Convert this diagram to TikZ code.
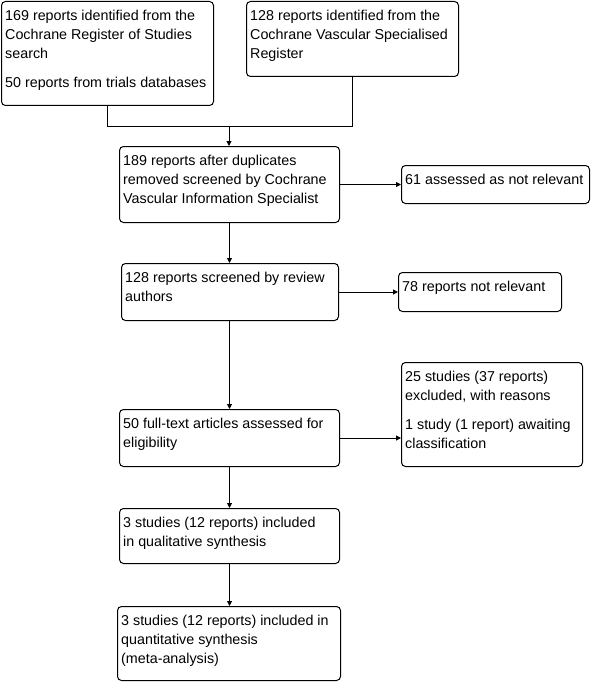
\documentclass[tikz,border=0pt]{standalone}
\usepackage{fontspec}
\setmainfont{Liberation Sans}
\usetikzlibrary{arrows.meta}
\begin{document}
\begin{tikzpicture}[x=1pt,y=-1pt,
 box/.style={draw, line width=1pt, rounded corners=4pt, anchor=north west, inner sep=0pt},
 txt/.style={anchor=north west, inner sep=0pt, align=left, font=\fontsize{14.3}{19}\selectfont},
 arr/.style={-{Triangle[length=5pt,width=5pt]}, line width=1pt},
 lin/.style={line width=1pt}]
\useasboundingbox (0,0) rectangle (592,682);
% boxes
\node[box, minimum width=212pt, minimum height=104pt] (A) at (1,1) {};
\node[box, minimum width=212pt, minimum height=75pt] (B) at (246,1) {};
\node[box, minimum width=220pt, minimum height=76pt] (C) at (119,146) {};
\node[box, minimum width=188pt, minimum height=38pt] (D) at (401,165) {};
\node[box, minimum width=217pt, minimum height=57pt] (E) at (121,263) {};
\node[box, minimum width=163pt, minimum height=39pt] (F) at (398,272) {};
\node[box, minimum width=220pt, minimum height=57pt] (G) at (119,409) {};
\node[box, minimum width=181pt, minimum height=104pt] (H) at (401,362) {};
\node[box, minimum width=220pt, minimum height=55pt] (I) at (119,508) {};
\node[box, minimum width=223pt, minimum height=74pt] (J) at (117,606) {};
% texts
\node[txt] (At) at ([xshift=4pt,yshift=-5.5pt]A.north west) {\rule{0pt}{14pt}169 reports identified from the\\Cochrane Register of Studies\\search\\[10pt]50 reports from trials databases};
\node[txt] (Bt) at ([xshift=4pt,yshift=-5.5pt]B.north west) {\rule{0pt}{14pt}128 reports identified from the\\Cochrane Vascular Specialised\\Register};
\node[txt] (Ct) at ([xshift=4pt,yshift=-5.5pt]C.north west) {\rule{0pt}{14pt}189 reports after duplicates\\removed screened by Cochrane\\Vascular Information Specialist};
\node[txt] (Dt) at ([xshift=4pt,yshift=-5.5pt]D.north west) {\rule{0pt}{14pt}61 assessed as not relevant};
\node[txt] (Et) at ([xshift=4pt,yshift=-5.5pt]E.north west) {\rule{0pt}{14pt}128 reports screened by review\\authors};
\node[txt] (Ft) at ([xshift=4pt,yshift=-5.5pt]F.north west) {\rule{0pt}{14pt}78 reports not relevant};
\node[txt] (Gt) at ([xshift=4pt,yshift=-5.5pt]G.north west) {\rule{0pt}{14pt}50 full-text articles assessed for\\eligibility};
\node[txt] (Ht) at ([xshift=4pt,yshift=-5.5pt]H.north west) {\rule{0pt}{14pt}25 studies (37 reports)\\excluded, with reasons\\[10pt]1 study (1 report) awaiting\\classification};
\node[txt] (It) at ([xshift=4pt,yshift=-5.5pt]I.north west) {\rule{0pt}{14pt}3 studies (12 reports) included\\in qualitative synthesis};
\node[txt] (Jt) at ([xshift=4pt,yshift=-5.5pt]J.north west) {\rule{0pt}{14pt}3 studies (12 reports) included in\\quantitative synthesis\\(meta-analysis)};
% connectors
\coordinate (m) at (229,126.5);
\draw[lin] (A.south) |- (m) -| (B.south);
\draw[arr] (m) -- (m |- C.north);
\draw[arr] (C.east) -- (C.east -| D.west);
\draw[arr] (C.south) -- (C.south |- E.north);
\draw[arr] (E.east) -- (E.east -| F.west);
\draw[arr] (E.south -| C.south) -- (C.south |- G.north);
\draw[arr] (G.east) -- (G.east -| H.west);
\draw[arr] (G.south) -- (G.south |- I.north);
\draw[arr] (I.south) -- (I.south |- J.north);
\end{tikzpicture}
\end{document}
